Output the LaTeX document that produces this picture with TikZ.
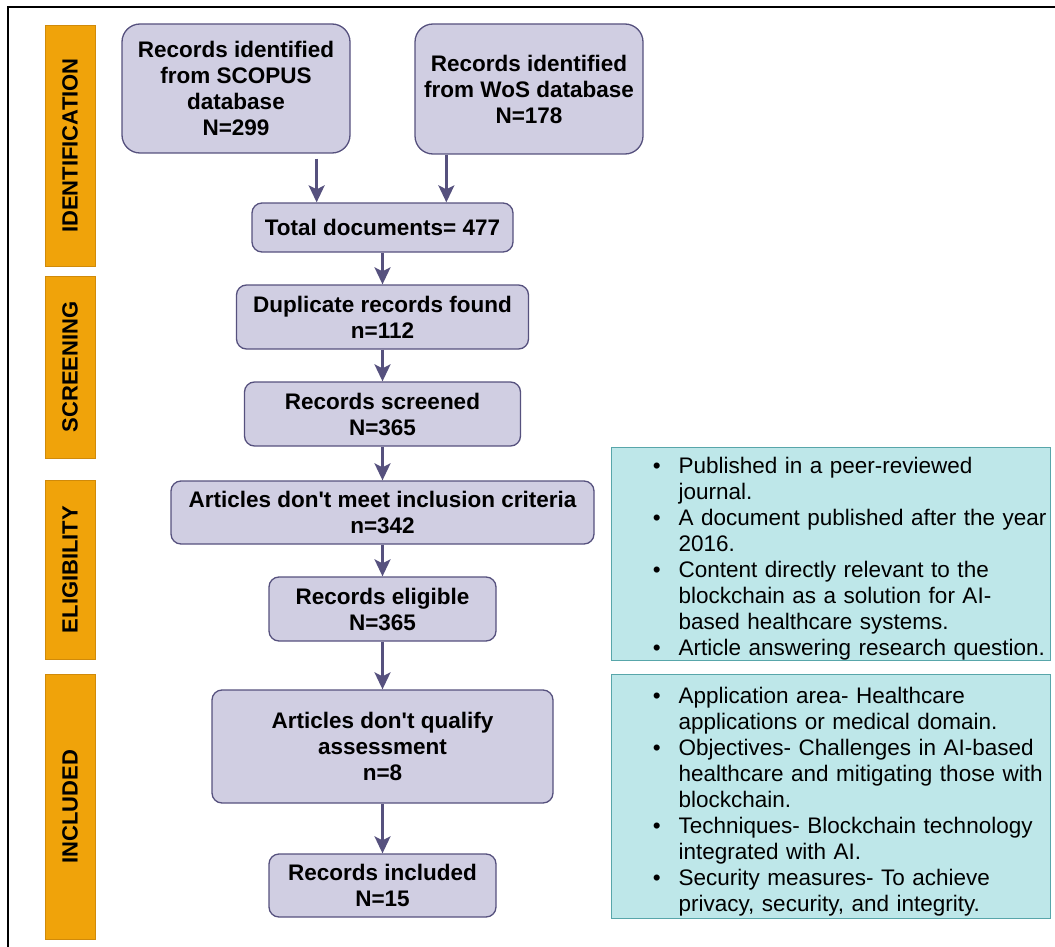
\documentclass[tikz,border=0pt]{standalone}
\usepackage{fontspec}
\usepackage{enumitem}
\newfontfamily\flowfont{Liberation Sans}
\usetikzlibrary{arrows.meta,calc}

\definecolor{stagefill}{HTML}{D0CEE2}
\definecolor{stageline}{HTML}{56517E}
\definecolor{phasefill}{HTML}{F0A30A}
\definecolor{phaseline}{HTML}{D08A0A}
\definecolor{critfill}{HTML}{BEE7E9}
\definecolor{critline}{HTML}{58A6AA}

\newcommand{\critlist}[1]{%
  \begin{itemize}[leftmargin=67pt,labelsep=18pt,rightmargin=-30pt,itemsep=0pt,
    parsep=0pt,topsep=0pt,partopsep=0pt,label={\textbullet}]#1\end{itemize}}

\begin{document}
\begin{tikzpicture}[>={Stealth[length=17pt,width=16pt,inset=4pt]},x=1pt,y=-1pt,
  stage/.style={draw=stageline,line width=1.3pt,fill=stagefill,rounded corners=10pt,
    align=center,inner sep=0pt,font=\flowfont\bfseries\fontsize{22.5}{26}\selectfont},
  phase/.style={draw=phaseline,fill=phasefill,rotate=90,minimum height=50pt,inner sep=0pt,
    font=\flowfont\bfseries\fontsize{22}{26}\selectfont},
  crit/.style={draw=critline,line width=1.3pt,fill=critfill,anchor=north west,
    inner sep=0pt,text width=439pt,align=left,
    font=\flowfont\fontsize{22.5}{26}\selectfont},
  flow/.style={->,draw=stageline,line width=2.5pt}]
  \useasboundingbox (0,0) rectangle (1055,947);
  \draw[line width=1.6pt] (8,947) -- (8,7) -- (1055,7);

  % phases
  \node[phase,minimum width=241pt] (ident) at (70,145.5) {IDENTIFICATION};
  \node[phase,minimum width=182pt] (screen) at (70,367) {SCREENING};
  \node[phase,minimum width=179pt] (elig) at (70,569.5) {ELIGIBILITY};
  \node[phase,minimum width=265pt] (incl) at (70,806.5) {INCLUDED};

  % flow boxes
  \node[stage,rounded corners=18pt,minimum width=228pt,minimum height=129pt] (scopus) at (236,88.5)
    {Records identified\\from SCOPUS\\database\\N=299};
  \node[stage,rounded corners=18pt,minimum width=228pt,minimum height=130pt] (wos) at (529,89)
    {Records identified\\from WoS database\\N=178};
  \node[stage,minimum width=261pt,minimum height=49pt] (total) at (382.5,227.5) {Total documents= 477};
  \node[stage,minimum width=292pt,minimum height=64pt] (dup) at (382.5,317) {Duplicate records found\\n=112};
  \node[stage,minimum width=276pt,minimum height=64pt] (screened) at (382.5,414) {Records screened\\N=365};
  \node[stage,minimum width=423pt,minimum height=63pt] (notmeet) at (382.5,512.5)
    {Articles don't meet inclusion criteria\\n=342};
  \node[stage,minimum width=227pt,minimum height=64pt] (eligible) at (382.5,609) {Records eligible\\N=365};
  \node[stage,minimum width=341pt,minimum height=113pt] (notqual) at (382.5,746.5)
    {Articles don't qualify\\assessment\\n=8};
  \node[stage,minimum width=227pt,minimum height=63pt] (included) at (382.5,885.5) {Records included\\N=15};

  % criteria
  \node[crit,minimum height=211pt] (critelig) at (611,447) {\critlist{%
    \item Published in a peer-reviewed\newline journal.
    \item A document published after the year\newline 2016.
    \item Content directly relevant to the\newline blockchain as a solution for AI-\newline based healthcare systems.
    \item Article answering research question.}};
  \node[crit,minimum height=244pt] (critincl) at (611,674) {\critlist{%
    \item Application area- Healthcare\newline applications or medical domain.
    \item Objectives- Challenges in AI-based\newline healthcare and mitigating those with\newline blockchain.
    \item Techniques- Blockchain technology\newline integrated with AI.
    \item Security measures- To achieve\newline privacy, security, and integrity.}};

  % arrows
  \draw[flow] ([xshift=-34pt,yshift=-5pt]scopus.south east) -- ([xshift=-34pt]scopus.south east |- total.north);
  \draw[flow] ([xshift=32pt]wos.south west) -- ([xshift=32pt]wos.south west |- total.north);
  \draw[flow] (total) -- (dup);
  \draw[flow] (dup) -- (screened);
  \draw[flow] (screened) -- (notmeet);
  \draw[flow] (notmeet) -- (eligible);
  \draw[flow] (eligible) -- (notqual);
  \draw[flow] (notqual) -- (included);
\end{tikzpicture}
\end{document}
